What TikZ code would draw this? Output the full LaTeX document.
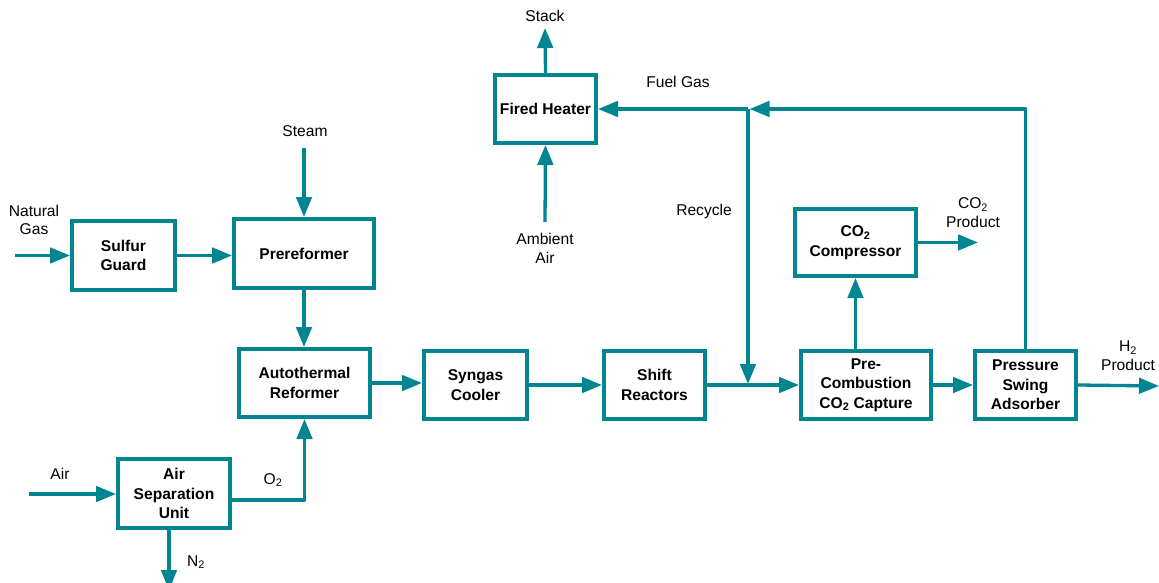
\documentclass[tikz,border=0pt]{standalone}
\usepackage{fontspec}
\setmainfont{Liberation Sans}
\usetikzlibrary{arrows.meta}
\definecolor{flowteal}{RGB}{0,133,145}

\tikzset{
  unit/.style={draw=flowteal, line width=3.6pt, fill=white, align=center,
    inner sep=0pt, font=\bfseries\fontsize{15.6}{19.5}\selectfont},
  flow/.style={draw=flowteal, line width=3.3pt, line join=round,
    -{Triangle[length=20pt,width=15.5pt]}},
  tag/.style={align=center, inner sep=0pt, font=\fontsize{15.6}{18.7}\selectfont}
}

\begin{document}
\begin{tikzpicture}[x=1pt,y=-1pt]
\useasboundingbox (0,0) rectangle (1159,583);

% process units
\node[unit, minimum width=103.4pt, minimum height=69.4pt] (SG)  at (123.5,255.5) {Sulfur\\Guard};
\node[unit, minimum width=140.4pt, minimum height=69.4pt] (PRE) at (304,253.5)   {Prereformer};
\node[unit, minimum width=131.4pt, minimum height=68.4pt] (ATR) at (304.5,383)   {Autothermal\\Reformer};
\node[unit, minimum width=103.4pt, minimum height=68.4pt] (SC)  at (475.5,385)   {Syngas\\Cooler};
\node[unit, minimum width=101.4pt, minimum height=68.4pt] (SR)  at (654.5,385)   {Shift\\Reactors};
\node[unit, minimum width=130.4pt, minimum height=68.4pt] (PCC) at (866,385)     {Pre-\\Combustion\\CO\textsubscript{2} Capture};
\node[unit, minimum width=101.4pt, minimum height=68.4pt] (PSA) at (1025.5,385)  {Pressure\\Swing\\Adsorber};
\node[unit, minimum width=121.4pt, minimum height=67.4pt] (CMP) at (855.5,242.5) {CO\textsubscript{2}\\Compressor};
\node[unit, minimum width=101.4pt, minimum height=68.4pt] (FH)  at (545.5,109)   {Fired Heater};
\node[unit, minimum width=112.4pt, minimum height=69.4pt] (ASU) at (174,493.5)   {Air\\Separation\\Unit};

% stream labels
\node[tag] (tNG)    at (34,220)    {Natural\\Gas};
\node[tag] (tSteam) at (305,131)   {Steam};
\node[tag] (tAir)   at (60,474)    {Air};
\node[tag] (tO2)    at (273,480)   {O\textsubscript{2}};
\node[tag] (tN2)    at (196,562)   {N\textsubscript{2}};
\node[tag] (tStack) at (545,16)    {Stack};
\node[tag] (tFuel)  at (678,82)    {Fuel Gas};
\node[tag] (tRec)   at (704,211)   {Recycle};
\node[tag] (tAmb)   at (545,248.5) {Ambient\\Air};
\node[tag] (tCO2)   at (973,212.5) {CO\textsubscript{2}\\Product};
\node[tag] (tH2)    at (1128,355.5){H\textsubscript{2}\\Product};

% free ends and junctions
\coordinate (ngIn)    at (15,255.5);
\coordinate (steamIn) at (304,148);
\coordinate (airIn)   at (29,494);
\coordinate (n2Out)   at (169,590);
\coordinate (stackOut) at (545,28);
\coordinate (ambIn)   at (545,222);
\coordinate (co2Out)  at (978,242.5);
\coordinate (h2Out)   at (1159,386);
\coordinate (J)       at (748,109);
\coordinate (R)       at (748,384);

% main train
\draw[flow] (ngIn) -- (SG.west);
\draw[flow] (SG.east) -- (SG.east -| PRE.west);
\draw[flow] (steamIn) -- (PRE.north);
\draw[flow] (PRE.south) -- (PRE.south |- ATR.north);
\draw[flow] (ATR.east) -- (ATR.east -| SC.west);
\draw[flow] (SC.east) -- (SR.west);
\draw[flow] (SR.east) -- (PCC.west);
\draw[flow] (PCC.east) -- (PSA.west);
\draw[flow] (PSA.east) -- (h2Out);

% air separation
\draw[flow] (airIn) -- (airIn -| ASU.west);
\draw[flow] ([yshift=-6.5pt]ASU.east) -| (ATR.south);
\draw[flow] ([xshift=-5pt]ASU.south) -- (n2Out);

% CO2 handling
\draw[flow] (CMP.south |- PCC.north) -- (CMP.south);
\draw[flow] (CMP.east) -- (co2Out);

% fuel gas and recycle
\draw[flow] (PSA.north) |- ([xshift=1.6pt]J);
\draw[flow] (J) -- (FH.east);
\draw[flow] (J) -- (R);
\draw[flow] (FH.north) -- (stackOut);
\draw[flow] (ambIn) -- (FH.south);
\end{tikzpicture}
\end{document}
